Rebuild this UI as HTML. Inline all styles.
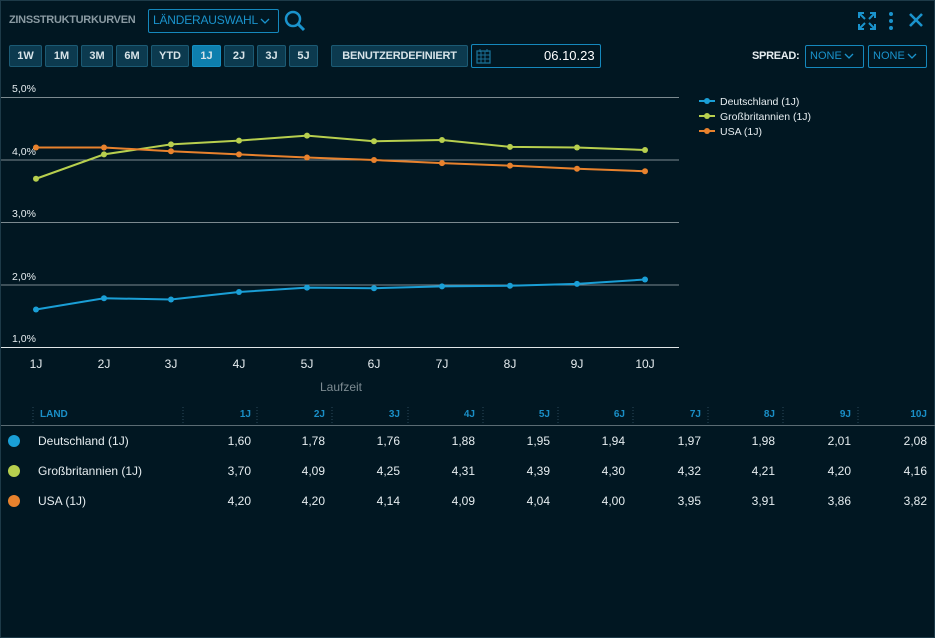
<!DOCTYPE html>
<html><head><meta charset="utf-8"><style>
*{margin:0;padding:0;box-sizing:border-box}
body{width:935px;height:638px;background:#011722;font-family:"Liberation Sans",sans-serif;color:#e6edf0;position:relative;overflow:hidden;border:1px solid #1d3a48}
.a{position:absolute;white-space:nowrap}
.btn{position:absolute;top:44px;height:22px;background:#0c3a4f;border:1px solid #1b5a74;color:#d7e3e8;font-size:11px;font-weight:bold;text-align:center;line-height:20px;border-radius:2px}
.sel{position:absolute;border:1px solid #1588bd;color:#1a93cc;font-size:12px;line-height:21px;border-radius:2px;padding-left:4px;white-space:nowrap;overflow:hidden}
.sel svg{vertical-align:middle;margin-left:2px}
.num{position:absolute;font-size:12px;text-align:right;width:70px}
.hd{position:absolute;top:408px;font-size:10px;font-weight:bold;color:#1a8fc7;text-align:right;width:60px}
</style></head><body>
<div class="a" style="left:8px;top:13px;font-size:11px;font-weight:bold;color:#8a9aa2;letter-spacing:-0.3px">ZINSSTRUKTURKURVEN</div>
<div class="sel" style="left:147px;top:8px;width:131px;height:24px;font-size:12px;letter-spacing:-0.2px">LÄNDERAUSWAHL<svg width="10" height="6"><path d="M1 1l4 4 4-4" fill="none" stroke="#1a93cc" stroke-width="1.3"/></svg></div>
<svg class="a" style="left:282px;top:8px" width="24" height="24"><circle cx="10" cy="10" r="7" fill="none" stroke="#1a93cc" stroke-width="2.5"/><line x1="15" y1="15" x2="21" y2="21" stroke="#1a93cc" stroke-width="3"/></svg>
<svg class="a" style="left:856px;top:10px" width="70" height="20"><path d="M2 7V2H7M2 2l6 6M18 7V2H13M18 2l-6 6M2 13v5h5M2 18l6-6M18 13v5h-5M18 18l-6-6" fill="none" stroke="#1a93cc" stroke-width="2"/><circle cx="34" cy="3" r="2" fill="#1a93cc"/><circle cx="34" cy="10" r="2" fill="#1a93cc"/><circle cx="34" cy="17" r="2" fill="#1a93cc"/><path d="M53 3l12 12M65 3L53 15" stroke="#1a93cc" stroke-width="2.6"/></svg>
<div class="btn" style="left:8px;width:33px">1W</div>
<div class="btn" style="left:44px;width:33px">1M</div>
<div class="btn" style="left:80px;width:32px">3M</div>
<div class="btn" style="left:115px;width:32px">6M</div>
<div class="btn" style="left:150px;width:38px">YTD</div>
<div class="btn" style="left:191px;width:29px;background:#0e7fae;border-color:#1590c3">1J</div>
<div class="btn" style="left:223px;width:30px">2J</div>
<div class="btn" style="left:256px;width:29px">3J</div>
<div class="btn" style="left:288px;width:29px">5J</div>
<div class="btn" style="left:330px;width:137px;letter-spacing:-0.2px">BENUTZERDEFINIERT</div>
<div class="a" style="left:470px;top:43px;width:130px;height:24px;border:1px solid #1588bd;border-radius:2px"></div>
<svg class="a" style="left:475px;top:47px" width="15" height="16"><rect x="1" y="3" width="13" height="12" fill="none" stroke="#1a6f95" stroke-width="1.3"/><path d="M1 7h13M5 3v12M9 3v12M1 11h13M4 1v3M11 1v3" stroke="#1a6f95"/></svg>
<div class="a" style="left:543px;top:47px;font-size:13px;color:#fff">06.10.23</div>
<div class="a" style="left:751px;top:49px;font-size:11px;font-weight:bold;letter-spacing:-0.3px">SPREAD:</div>
<div class="sel" style="left:804px;top:44px;width:59px;height:23px;font-size:11px">NONE<svg width="10" height="6"><path d="M1 1l4 4 4-4" fill="none" stroke="#1a93cc" stroke-width="1.3"/></svg></div>
<div class="sel" style="left:867px;top:44px;width:59px;height:23px;font-size:11px">NONE<svg width="10" height="6"><path d="M1 1l4 4 4-4" fill="none" stroke="#1a93cc" stroke-width="1.3"/></svg></div>
<svg class="a" style="left:0;top:0" width="935" height="400" font-family="Liberation Sans" font-size="10.5">
<g stroke="#7c8a90" stroke-width="1"><line x1="0" y1="96.5" x2="678" y2="96.5"/><line x1="0" y1="159" x2="678" y2="159"/><line x1="0" y1="221.5" x2="678" y2="221.5"/><line x1="0" y1="284" x2="678" y2="284"/></g>
<line x1="0" y1="346.5" x2="678" y2="346.5" stroke="#e0e6e8"/>
<g fill="#e6edf0"><text x="11" y="91">5,0%</text><text x="11" y="154">4,0%</text><text x="11" y="216">3,0%</text><text x="11" y="279">2,0%</text><text x="11" y="341">1,0%</text>
<g font-size="12" text-anchor="middle"><text x="35" y="367">1J</text><text x="103" y="367">2J</text><text x="170" y="367">3J</text><text x="238" y="367">4J</text><text x="306" y="367">5J</text><text x="373" y="367">6J</text><text x="441" y="367">7J</text><text x="509" y="367">8J</text><text x="576" y="367">9J</text><text x="644" y="367">10J</text></g></g>
<text x="340" y="390" fill="#7d8b92" font-size="12" text-anchor="middle">Laufzeit</text>
<g fill="none" stroke-width="2">
<polyline stroke="#1a9fd6" points="35,308.5 103,297.25 170,298.5 238,291 306,286.6 373,287.25 441,285.4 509,284.75 576,282.9 644,278.5"/>
<polyline stroke="#b7cf4e" points="35,177.75 103,153.4 170,143.4 238,139.6 306,134.6 373,140.25 441,139 509,145.9 576,146.5 644,149"/>
<polyline stroke="#e8822d" points="35,146.5 103,146.5 170,150.25 238,153.4 306,156.5 373,159 441,162.1 509,164.6 576,167.75 644,170.25"/>
</g>
<g fill="#1a9fd6"><circle cx="35" cy="308.5" r="3"/><circle cx="103" cy="297.25" r="3"/><circle cx="170" cy="298.5" r="3"/><circle cx="238" cy="291" r="3"/><circle cx="306" cy="286.6" r="3"/><circle cx="373" cy="287.25" r="3"/><circle cx="441" cy="285.4" r="3"/><circle cx="509" cy="284.75" r="3"/><circle cx="576" cy="282.9" r="3"/><circle cx="644" cy="278.5" r="3"/></g>
<g fill="#b7cf4e"><circle cx="35" cy="177.75" r="3"/><circle cx="103" cy="153.4" r="3"/><circle cx="170" cy="143.4" r="3"/><circle cx="238" cy="139.6" r="3"/><circle cx="306" cy="134.6" r="3"/><circle cx="373" cy="140.25" r="3"/><circle cx="441" cy="139" r="3"/><circle cx="509" cy="145.9" r="3"/><circle cx="576" cy="146.5" r="3"/><circle cx="644" cy="149" r="3"/></g>
<g fill="#e8822d"><circle cx="35" cy="146.5" r="3"/><circle cx="103" cy="146.5" r="3"/><circle cx="170" cy="150.25" r="3"/><circle cx="238" cy="153.4" r="3"/><circle cx="306" cy="156.5" r="3"/><circle cx="373" cy="159" r="3"/><circle cx="441" cy="162.1" r="3"/><circle cx="509" cy="164.6" r="3"/><circle cx="576" cy="167.75" r="3"/><circle cx="644" cy="170.25" r="3"/></g>
<g stroke-width="2"><line x1="698" y1="100" x2="714" y2="100" stroke="#1a9fd6"/><line x1="698" y1="115" x2="714" y2="115" stroke="#b7cf4e"/><line x1="698" y1="130" x2="714" y2="130" stroke="#e8822d"/></g>
<circle cx="706" cy="100" r="3" fill="#1a9fd6"/><circle cx="706" cy="115" r="3" fill="#b7cf4e"/><circle cx="706" cy="130" r="3" fill="#e8822d"/>
<g fill="#e6edf0" font-size="10.5"><text x="719" y="104">Deutschland (1J)</text><text x="719" y="119">Großbritannien (1J)</text><text x="719" y="134">USA (1J)</text></g>
</svg>
<svg class="a" style="left:0;top:400px" width="935" height="30"><g stroke="#2a4a5a" stroke-dasharray="1,2"><line x1="32" y1="6" x2="32" y2="22"/><line x1="182" y1="6" x2="182" y2="22"/><line x1="256" y1="6" x2="256" y2="22"/><line x1="331" y1="6" x2="331" y2="22"/><line x1="407" y1="6" x2="407" y2="22"/><line x1="482" y1="6" x2="482" y2="22"/><line x1="557" y1="6" x2="557" y2="22"/><line x1="632" y1="6" x2="632" y2="22"/><line x1="707" y1="6" x2="707" y2="22"/><line x1="782" y1="6" x2="782" y2="22"/><line x1="857" y1="6" x2="857" y2="22"/></g><line x1="0" y1="24.5" x2="935" y2="24.5" stroke="#5b6c74"/></svg>
<div class="a" style="left:39px;top:408px;font-size:10px;font-weight:bold;color:#1a8fc7">LAND</div>
<div class="hd" style="left:190px">1J</div><div class="hd" style="left:264px">2J</div><div class="hd" style="left:339px">3J</div><div class="hd" style="left:414px">4J</div><div class="hd" style="left:489px">5J</div><div class="hd" style="left:564px">6J</div><div class="hd" style="left:640px">7J</div><div class="hd" style="left:714px">8J</div><div class="hd" style="left:790px">9J</div><div class="hd" style="left:866px">10J</div>
<div class="a" style="left:7px;top:434px;width:12px;height:12px;border-radius:50%;background:#1a9fd6"></div>
<div class="a" style="left:7px;top:464px;width:12px;height:12px;border-radius:50%;background:#b7cf4e"></div>
<div class="a" style="left:7px;top:494px;width:12px;height:12px;border-radius:50%;background:#e8822d"></div>
<div class="a" style="left:37px;top:433px;font-size:12px">Deutschland (1J)</div>
<div class="a" style="left:37px;top:463px;font-size:12px">Großbritannien (1J)</div>
<div class="a" style="left:37px;top:493px;font-size:12px">USA (1J)</div>
<div style="position:absolute;top:433px;left:0">
<div class="num" style="left:180px">1,60</div><div class="num" style="left:254px">1,78</div><div class="num" style="left:329px">1,76</div><div class="num" style="left:404px">1,88</div><div class="num" style="left:479px">1,95</div><div class="num" style="left:554px">1,94</div><div class="num" style="left:630px">1,97</div><div class="num" style="left:704px">1,98</div><div class="num" style="left:780px">2,01</div><div class="num" style="left:856px">2,08</div></div>
<div style="position:absolute;top:463px;left:0">
<div class="num" style="left:180px">3,70</div><div class="num" style="left:254px">4,09</div><div class="num" style="left:329px">4,25</div><div class="num" style="left:404px">4,31</div><div class="num" style="left:479px">4,39</div><div class="num" style="left:554px">4,30</div><div class="num" style="left:630px">4,32</div><div class="num" style="left:704px">4,21</div><div class="num" style="left:780px">4,20</div><div class="num" style="left:856px">4,16</div></div>
<div style="position:absolute;top:493px;left:0">
<div class="num" style="left:180px">4,20</div><div class="num" style="left:254px">4,20</div><div class="num" style="left:329px">4,14</div><div class="num" style="left:404px">4,09</div><div class="num" style="left:479px">4,04</div><div class="num" style="left:554px">4,00</div><div class="num" style="left:630px">3,95</div><div class="num" style="left:704px">3,91</div><div class="num" style="left:780px">3,86</div><div class="num" style="left:856px">3,82</div></div>
</body></html>
